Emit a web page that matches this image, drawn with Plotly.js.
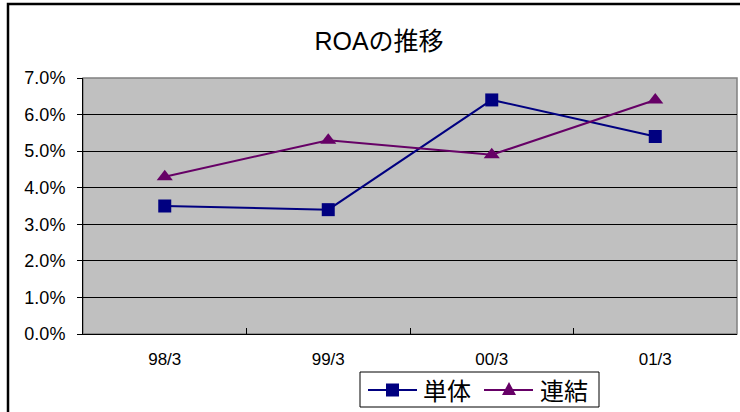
<!DOCTYPE html>
<html><head><meta charset="utf-8">
<script src="https://cdn.plot.ly/plotly-3.0.1.min.js"></script>
<style>html,body{margin:0;padding:0;background:#fff;}#chart{width:740px;height:412px;}</style>
</head><body><div id="chart"></div>
<script>
const categories = ['98/3', '99/3', '00/3', '01/3'];
const tantai = [0.035, 0.034, 0.064, 0.054];
const renketsu = [0.043, 0.053, 0.049, 0.064];
const seriesNames = ['単体', '連結'];
const seriesColors = ['#000080', '#660066'];
const yTicks = [0, 0.01, 0.02, 0.03, 0.04, 0.05, 0.06, 0.07];

const FONT = 'Liberation Sans, Arial, Noto Sans CJK JP, sans-serif';
const CJK = 'Liberation Sans, Noto Sans CJK JP, sans-serif';
const L = 83, R = 3, T = 78, B = 78, W = 740, H = 412;
const pw = W - L - R, ph = H - T - B;
const px = x => (x - L) / pw;
const py = y => 1 - (y - T) / ph;

const traces = [
  {x: categories, y: tantai, name: seriesNames[0], type: 'scatter', mode: 'lines+markers',
   line: {color: seriesColors[0], width: 2}, marker: {symbol: 'square', size: 13, color: seriesColors[0]}},
  {x: categories, y: renketsu, name: seriesNames[1], type: 'scatter', mode: 'lines+markers',
   line: {color: seriesColors[1], width: 2}, marker: {symbol: 'triangle-up', size: 14, color: seriesColors[1]}}
];

// custom legend (box, sample lines, sample markers, labels) in pixel positions
const legY = 390;
const shapes = [
  {type: 'rect', xref: 'paper', yref: 'paper', x0: 0, x1: 1, y0: 0, y1: 1,
   line: {color: '#808080', width: 1.5}, layer: 'below'},
  {type: 'rect', xref: 'paper', yref: 'paper', x0: px(8), x1: px(760), y0: py(430), y1: py(4),
   line: {color: '#000', width: 2.5}, layer: 'above'},
  {type: 'rect', xref: 'paper', yref: 'paper', x0: px(360), x1: px(599), y0: py(407), y1: py(372),
   line: {color: '#000', width: 1}, fillcolor: '#fff', layer: 'above'},
  {type: 'line', xref: 'paper', yref: 'paper', x0: px(368), x1: px(417), y0: py(legY), y1: py(legY),
   line: {color: seriesColors[0], width: 2}, layer: 'above'},
  {type: 'rect', xref: 'paper', yref: 'paper', x0: px(386), x1: px(399), y0: py(legY + 6.5), y1: py(legY - 6.5),
   line: {width: 0}, fillcolor: seriesColors[0], layer: 'above'},
  {type: 'line', xref: 'paper', yref: 'paper', x0: px(484), x1: px(533), y0: py(legY), y1: py(legY),
   line: {color: seriesColors[1], width: 2}, layer: 'above'},
  {type: 'path', xref: 'paper', yref: 'paper',
   path: `M ${px(502)} ${py(legY + 5)} L ${px(516)} ${py(legY + 5)} L ${px(509)} ${py(legY - 8)} Z`,
   line: {width: 0}, fillcolor: seriesColors[1], layer: 'above'}
];
const annotations = [
  {text: seriesNames[0], xref: 'paper', yref: 'paper', x: px(421), y: py(legY + 1), xanchor: 'left', yanchor: 'middle',
   showarrow: false, font: {size: 24, family: CJK, color: '#000'}},
  {text: seriesNames[1], xref: 'paper', yref: 'paper', x: px(538), y: py(legY + 1), xanchor: 'left', yanchor: 'middle',
   showarrow: false, font: {size: 24, family: CJK, color: '#000'}}
];

const layout = {
  width: W, height: H,
  margin: {l: L, r: R, t: T, b: B, pad: 0, autoexpand: false},
  paper_bgcolor: '#ffffff', plot_bgcolor: '#c0c0c0',
  font: {family: FONT, color: '#000'},
  title: {text: 'ROAの推移', font: {size: 25, family: CJK, color: '#000'},
          x: 379 / W, xref: 'container', xanchor: 'center', y: 1 - 41 / H, yref: 'container', yanchor: 'middle'},
  xaxis: {type: 'category', range: [-0.5, 3.5], showgrid: false, zeroline: false, automargin: false,
          showline: true, linecolor: '#000', linewidth: 1,
          ticks: 'inside', tickson: 'boundaries', ticklen: 6, tickcolor: '#000',
          ticklabelstandoff: 10,
          tickfont: {size: 17, family: FONT}, fixedrange: true},
  yaxis: {range: [0, 0.07], tickvals: yTicks, tickformat: '.1%', showgrid: true, automargin: false,
          gridcolor: '#000', gridwidth: 1, zeroline: false,
          showline: true, linecolor: '#000', linewidth: 1,
          ticks: 'outside', ticklen: 5, tickcolor: '#000',
          ticklabelstandoff: 8,
          tickfont: {size: 18, family: FONT}, fixedrange: true},
  showlegend: false,
  shapes: shapes,
  annotations: annotations
};

Plotly.newPlot('chart', traces, layout, {displayModeBar: false, staticPlot: true});
</script></body></html>
